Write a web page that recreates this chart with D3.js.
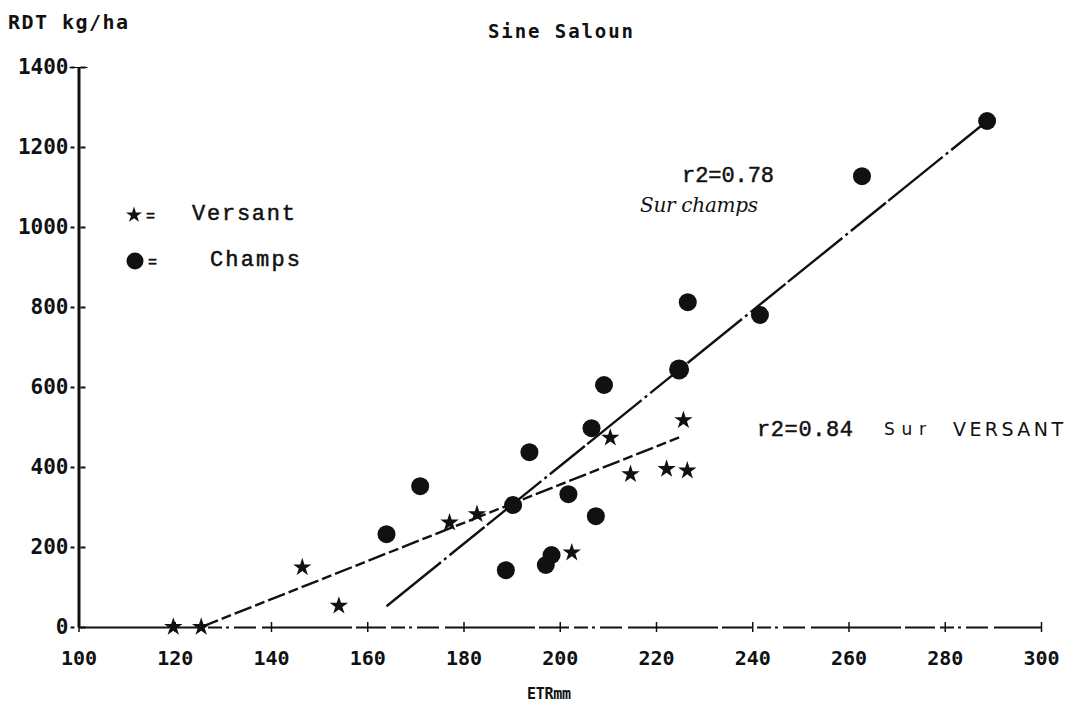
<!DOCTYPE html>
<html>
<head>
<meta charset="utf-8">
<script src="https://cdn.jsdelivr.net/npm/d3@7"></script>
<style>
html,body{margin:0;padding:0;background:#fff;}
svg{display:block;}
.lbl{font-family:"DejaVu Sans Mono",monospace;font-weight:bold;fill:#111;}
.typ{font-family:"Liberation Mono","Courier New",monospace;fill:#111;stroke:#111;stroke-width:0.5;}
</style>
</head>
<body>
<svg id="chart" width="1071" height="708"></svg>
<script>
// ETR (mm) / RDT (kg/ha)
const versantEtr=[119.7,125.5,146.5,154.1,177.1,182.8,202.5,210.5,214.7,222.2,226.5,225.7];
const versantRdt=[0,0,149,53,261,282,186,473,382,395,391,517];
const champsEtr=[164.0,171.0,188.8,190.3,193.7,197.1,198.3,201.8,206.6,207.5,209.2,224.8,226.6,241.6,262.8,288.8];
const champsRdt=[232,352,142,305,437,155,180,332,497,277,605,644,812,780,1127,1265];
// regression line ends
const versantFit=[[125.5,0],[224.8,474]];
const champsFit=[[164.0,52],[288.8,1265]];
const xTicks=[100,120,140,160,180,200,220,240,260,280,300];
const yTicks=[0,200,400,600,800,1000,1200,1400];

const svg=d3.select('#chart');
svg.append('rect').attr('width',1071).attr('height',708).attr('fill','#fff');

const x=d3.scaleLinear().domain([100,300]).range([78.5,1041]);
const y=d3.scaleLinear().domain([0,1400]).range([627,67]);

// y axis
const ya=svg.append('g').attr('transform',`translate(${x(100)},0)`)
  .call(d3.axisLeft(y).tickValues(yTicks).tickSize(0).tickSizeOuter(0).tickPadding(10).tickFormat(d3.format('d')));
ya.select('.domain').attr('stroke','#111').attr('stroke-width',3);
ya.selectAll('.tick text').attr('class','lbl').attr('font-size',21).attr('font-family',null);
ya.selectAll('.tick').append('line').attr('x1',-8).attr('x2',7).attr('stroke','#111').attr('stroke-width',2).attr('stroke-dasharray','4,6,5');
ya.select('.tick:last-of-type line').attr('x1',-9).attr('x2',9).attr('stroke-dasharray',null);

// x axis (printed broken, dot-matrix)
const xa=svg.append('g').attr('transform',`translate(0,${y(0)})`)
  .call(d3.axisBottom(x).tickValues(xTicks).tickSize(0).tickSizeOuter(0).tickPadding(24).tickFormat(d3.format('d')));
xa.select('.domain').attr('stroke','#111').attr('stroke-width',2).attr('stroke-dasharray','90,4,30,5,14,4,3,5,22,6');
xa.selectAll('.tick text').attr('class','lbl').attr('font-size',20).attr('font-family',null);
xa.selectAll('.tick').append('line').attr('y1',-5).attr('y2',5).attr('stroke','#111').attr('stroke-width',1.5);

// regression lines
const line=d3.line().x(d=>x(d[0])).y(d=>y(d[1]));
svg.append('path').datum(versantFit).attr('d',line).attr('fill','none')
  .attr('stroke','#111').attr('stroke-width',2.4).attr('stroke-dasharray','18,4,10,4');
svg.append('path').datum(champsFit).attr('d',line).attr('fill','none')
  .attr('stroke','#111').attr('stroke-width',2.4).attr('stroke-dasharray','70,4,3,4,45,3');

// points
const star=d3.symbol().type(d3.symbolStar).size(105);
svg.append('g').selectAll('path').data(versantEtr).join('path')
  .attr('d',star).attr('fill','#111')
  .attr('transform',(d,i)=>`translate(${x(d)},${y(versantRdt[i])})`);
svg.append('g').selectAll('circle').data(champsEtr).join('circle')
  .attr('cx',d=>x(d)).attr('cy',(d,i)=>y(champsRdt[i]))
  .attr('r',(d,i)=>i===11?10:9).attr('fill','#111');

// titles
svg.append('text').attr('class','lbl').attr('x',8).attr('y',29).attr('font-size',20).attr('textLength',120).text('RDT kg/ha');
svg.append('text').attr('class','lbl').attr('x',488).attr('y',38).attr('font-size',19).attr('font-weight','normal').attr('textLength',145).text('Sine Saloun');
svg.append('text').attr('class','lbl').attr('x',527).attr('y',699).attr('font-size',15).attr('textLength',44).text('ETRmm');

// legend
svg.append('path').attr('d',d3.symbol().type(d3.symbolStar).size(80)).attr('fill','#111').attr('transform','translate(134,215)');
svg.append('text').attr('class','typ').attr('x',146).attr('y',221).attr('font-size',15).text('=');
svg.append('text').attr('class','typ').attr('x',192).attr('y',220).attr('font-size',22).attr('textLength',103).text('Versant');
svg.append('circle').attr('cx',135).attr('cy',261).attr('r',8.5).attr('fill','#111');
svg.append('text').attr('class','typ').attr('x',148).attr('y',267).attr('font-size',15).text('=');
svg.append('text').attr('class','typ').attr('x',210).attr('y',266).attr('font-size',22).attr('textLength',90).text('Champs');

// annotations
svg.append('text').attr('class','typ').attr('x',682).attr('y',182).attr('font-size',22).attr('textLength',92).text('r2=0.78');
svg.append('text').attr('x',640).attr('y',212).attr('font-family','"DejaVu Serif",serif').attr('font-style','italic')
  .attr('font-size',20).attr('fill','#111').attr('textLength',118).text('Sur champs');
svg.append('text').attr('class','typ').attr('x',757).attr('y',436).attr('font-size',22).attr('textLength',96).text('r2=0.84');
svg.append('text').attr('x',884).attr('y',435).attr('font-family','"DejaVu Sans",sans-serif')
  .attr('font-size',17).attr('fill','#111').attr('textLength',42).text('Sur');
svg.append('text').attr('x',953).attr('y',436).attr('font-family','"DejaVu Sans",sans-serif')
  .attr('font-size',19).attr('fill','#111').attr('textLength',110).text('VERSANT');
</script>
</body>
</html>
